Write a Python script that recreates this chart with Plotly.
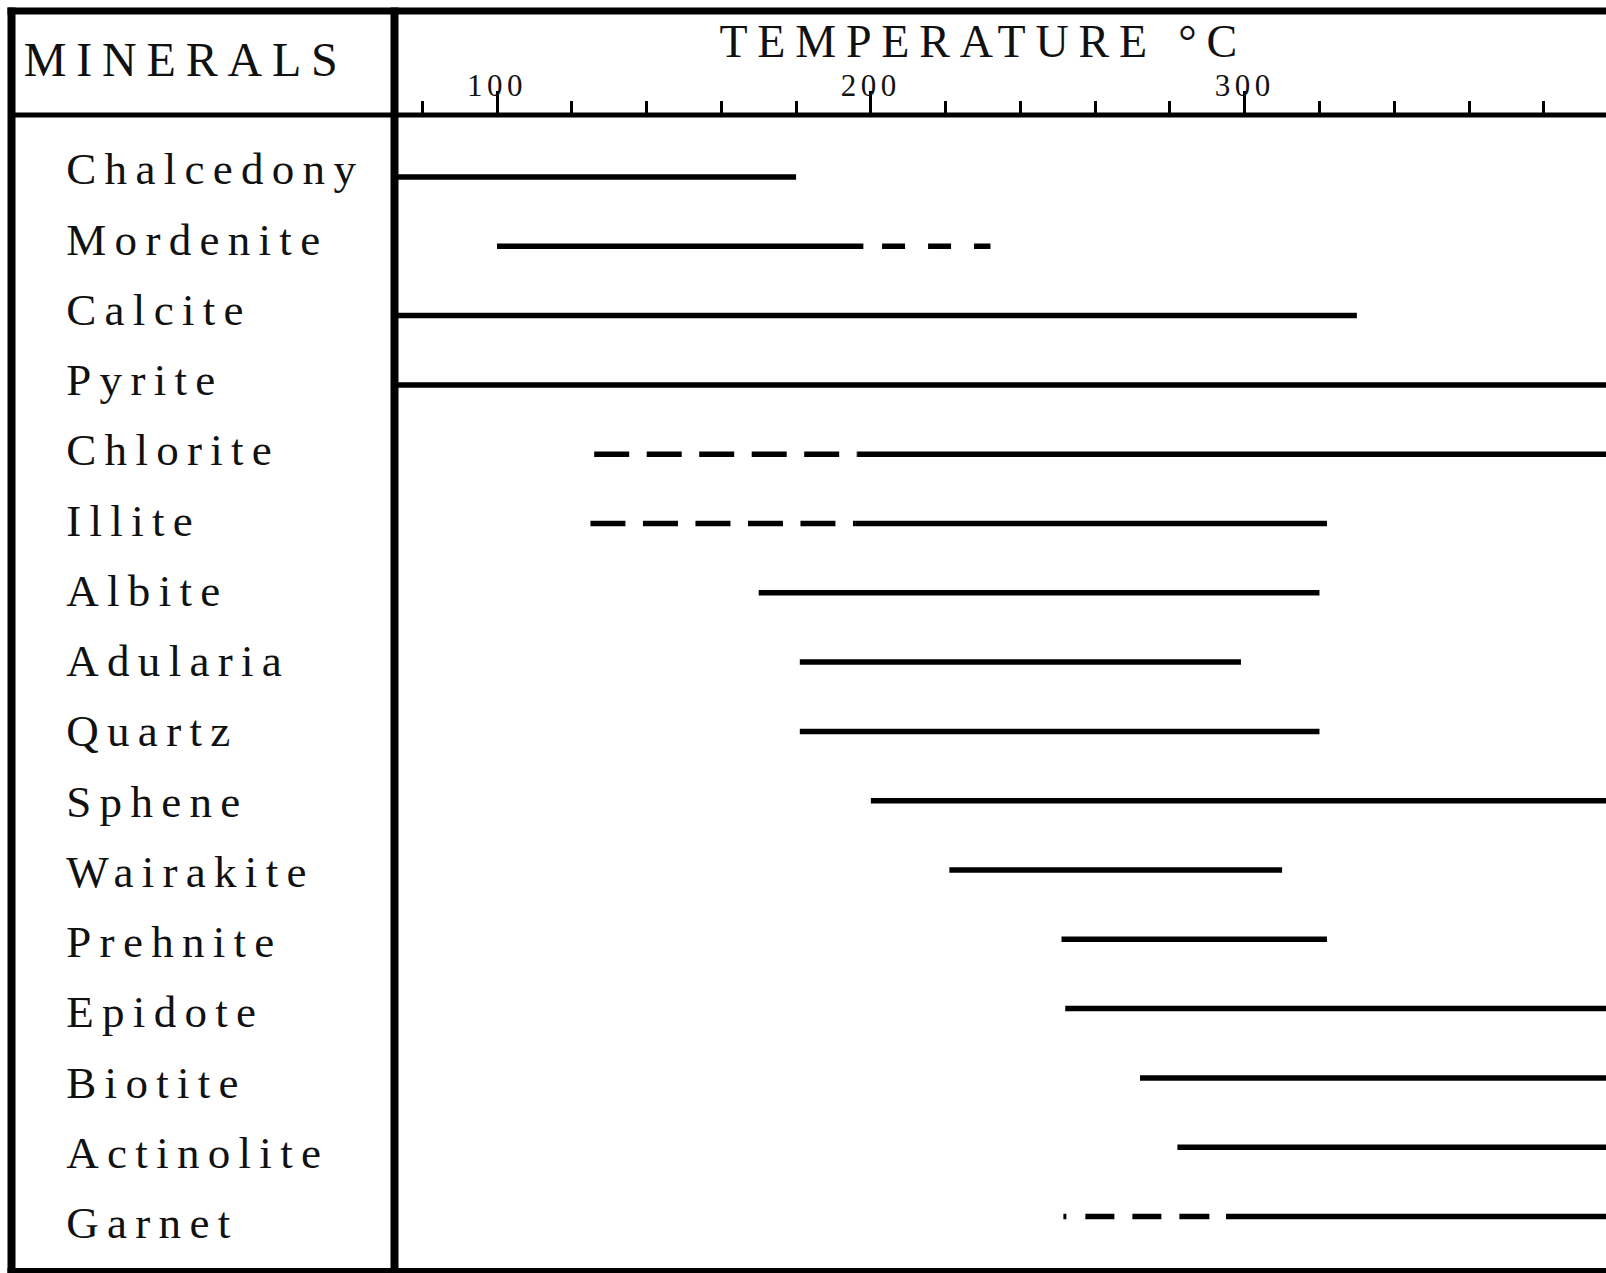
import plotly.graph_objects as go

# Temperature stability ranges of hydrothermal alteration minerals (°C)
minerals = ["Chalcedony", "Mordenite", "Calcite", "Pyrite", "Chlorite", "Illite",
            "Albite", "Adularia", "Quartz", "Sphene", "Wairakite", "Prehnite",
            "Epidote", "Biotite", "Actinolite", "Garnet"]

# well-established range (solid line); 70 / 400 mean "continues past the scale"
solid_from = [70, 100, 70, 70, 196.5, 196, 170, 181, 181, 200, 221, 251, 252, 272, 282, 295]
solid_to = [180, 198, 330, 400, 400, 322, 320, 299, 320, 400, 310, 322, 400, 400, 400, 400]

# uncertain extension (dashed line)
dashed_from = [None, 203, None, None, 126, 125, None, None, None, None, None, None, None, None, None, 251.5]
dashed_to = [None, 232, None, None, 196.5, 196, None, None, None, None, None, None, None, None, None, 295]

tick_values = [100, 200, 300]
tick_labels = ["100", "200", "300"]

W, H = 1606, 1273
FONT = "Liberation Serif"
INK = "#111111"

dash_style = {
    "Mordenite": "23px,23px",
    "Chlorite": "35px,17.5px",
    "Illite": "35px,17.5px",
    "Garnet": "3px,19px,29px,18px,29px,18px,30px,17px",
}

fig = go.Figure()

for i, name in enumerate(minerals):
    if dashed_from[i] is not None:
        fig.add_trace(go.Scatter(
            x=[dashed_from[i], dashed_to[i]], y=[name, name], mode="lines",
            line=dict(color="black", width=5.5, dash=dash_style.get(name, "dash")),
            hoverinfo="skip", xaxis="x", yaxis="y"))
    fig.add_trace(go.Scatter(
        x=[solid_from[i], solid_to[i]], y=[name, name], mode="lines",
        line=dict(color="black", width=5.5), hoverinfo="skip", xaxis="x", yaxis="y"))

# mineral names in the left column
fig.add_trace(go.Scatter(
    x=[0.168] * len(minerals), y=minerals, mode="text", text=minerals,
    textposition="middle right", cliponaxis=False, hoverinfo="skip",
    textfont=dict(family=FONT, size=45, color=INK), xaxis="x2", yaxis="y2"))

# pixel geometry of the table frame
div_x = 394.5
head_y = 115.0


def px(v):
    return v / W


def py(v):
    return 1 - v / H


# temperature scale: 100 °C at 497 px, 3.7385 px per degree
x_lo = 100 + (div_x - 497) / 3.7385
x_hi = 100 + (W - 497) / 3.7385

line_row0, line_step = 177.0, 69.3
lab_row0, lab_step = 173.0, 70.26

fig.update_layout(
    width=W, height=H, margin=dict(l=0, r=0, t=0, b=0, pad=0),
    paper_bgcolor="white", plot_bgcolor="white", showlegend=False,
    xaxis=dict(
        domain=[px(div_x), 1], range=[x_lo, x_hi], anchor="free", position=py(head_y),
        side="top", showgrid=False, zeroline=False, showline=False,
        tickmode="array", tickvals=tick_values, ticktext=tick_labels,
        ticks="outside", ticklen=24, tickwidth=3, tickcolor="black",
        ticklabelstandoff=-17,
        tickfont=dict(family=FONT, size=31, color=INK),
        minor=dict(tickmode="linear", tick0=0, dtick=20, ticks="outside",
                   ticklen=14, tickwidth=3, tickcolor="black", showgrid=False),
    ),
    yaxis=dict(
        domain=[0, 1], type="category", categoryorder="array", categoryarray=minerals,
        range=[(H - line_row0) / line_step, -line_row0 / line_step],
        visible=False, showgrid=False, zeroline=False,
    ),
    xaxis2=dict(domain=[0, px(div_x)], range=[0, 1], anchor="y2", visible=False,
                showgrid=False, zeroline=False),
    yaxis2=dict(
        domain=[0, 1], anchor="x2", type="category", categoryorder="array",
        categoryarray=minerals,
        range=[(H - lab_row0) / lab_step, -lab_row0 / lab_step],
        visible=False, showgrid=False, zeroline=False,
    ),
    annotations=[
        dict(text="MINERALS", x=px(185), y=py(60), xref="paper", yref="paper",
             xanchor="center", yanchor="middle", showarrow=False,
             font=dict(family=FONT, size=48, color=INK)),
        dict(text="TEMPERATURE °C", x=px(983), y=py(42), xref="paper", yref="paper",
             xanchor="center", yanchor="middle", showarrow=False,
             font=dict(family=FONT, size=46, color=INK)),
    ],
)

# table frame
frame = dict(type="line", xref="paper", yref="paper", line=dict(color="black"), layer="above")
fig.add_shape(**frame, x0=px(7.5), x1=1, y0=py(11), y1=py(11), line_width=7)
fig.add_shape(**frame, x0=px(11.5), x1=px(11.5), y0=py(7.5), y1=py(H), line_width=8)
fig.add_shape(**frame, x0=px(7.5), x1=1, y0=py(1270.5), y1=py(1270.5), line_width=5)
fig.add_shape(**frame, x0=px(div_x), x1=px(div_x), y0=py(7.5), y1=py(H), line_width=8)
fig.add_shape(**frame, x0=px(8), x1=1, y0=py(head_y), y1=py(head_y), line_width=5)

# the typeset labels are tracked out with wide letter spacing
spacing_js = """
var gd = document.getElementById('{plot_id}');
function track(sel, v) {
  gd.querySelectorAll(sel).forEach(function (t) { t.style.letterSpacing = v + 'px'; });
}
track('.textpoint text', 8.3);
track('.annotation-text', 9.8);
track('.xtick text', 4.5);
"""

fig.write_html("out.html", post_script=spacing_js)
